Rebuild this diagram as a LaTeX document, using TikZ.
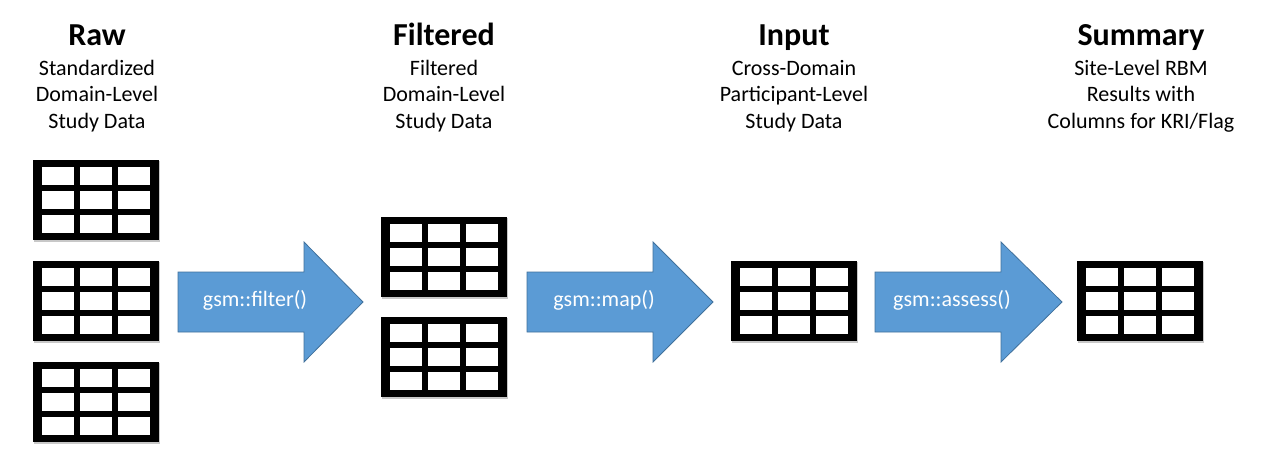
\documentclass[tikz,border=0pt]{standalone}
\usepackage{fontspec}
\setmainfont{Carlito}
\definecolor{arrowfill}{RGB}{91,155,213}
\definecolor{arrowline}{RGB}{65,113,156}
\definecolor{shadowgray}{RGB}{200,200,200}
\tikzset{
  tablebox/.style={rectangle, fill=black, minimum width=126pt, minimum height=80pt, inner sep=0pt, outer sep=0pt,
    path picture={
      \foreach \cx in {9,47,85}{
        \foreach \cy in {7,31,55}{
          \fill[white] ([shift={(\cx pt,-\cy pt)}]path picture bounding box.north west) rectangle ++(32pt,-18pt);
        }
      }
    }},
  tableshadow/.style={fill=shadowgray},
  bigarrow/.style={fill=arrowfill, draw=arrowline, line width=0.8pt, line join=miter},
  arrowlabel/.style={text=white, font=\fontsize{22}{26}\selectfont, inner sep=0pt},
  titletext/.style={anchor=base, inner sep=0pt, font=\fontsize{32}{36}\selectfont\bfseries},
  subtext/.style={anchor=base, inner sep=0pt, font=\fontsize{22}{26}\selectfont},
}
\begin{document}
\begin{tikzpicture}[x=1pt,y=-1pt]
\useasboundingbox[fill=white] (0,0) rectangle (1265,471);

% titles
\node[titletext] (rawT) at (97,45) {Raw};
\node[subtext] (rawS1) at (97,75) {Standardized};
\node[subtext] (rawS2) at (97,101.5) {Domain-Level};
\node[subtext] (rawS3) at (97,128) {Study Data};

\node[titletext] (filT) at (444,45) {Filtered};
\node[subtext] (filS1) at (444,75) {Filtered};
\node[subtext] (filS2) at (444,101.5) {Domain-Level};
\node[subtext] (filS3) at (444,128) {Study Data};

\node[titletext] (inT) at (794,45) {Input};
\node[subtext] (inS1) at (794,75) {Cross-Domain};
\node[subtext] (inS2) at (794,101.5) {Participant-Level};
\node[subtext] (inS3) at (794,128) {Study Data};

\node[titletext] (sumT) at (1141,45) {Summary};
\node[subtext] (sumS1) at (1141,75) {Site-Level RBM};
\node[subtext] (sumS2) at (1141,101.5) {Results with};
\node[subtext] (sumS3) at (1141,128) {Columns for KRI/Flag};

% table shadows
\foreach \px/\py in {96/200,96/301,96/402,444/257,444/357,794/301,1140/301}{
  \fill[tableshadow] (\px-62,\py-39) rectangle (\px+64,\py+42);
}
% tables
\node[tablebox] (raw1) at (96,200) {};
\node[tablebox] (raw2) at (96,301) {};
\node[tablebox] (raw3) at (96,402) {};
\node[tablebox] (fil1) at (444,257) {};
\node[tablebox] (fil2) at (444,357) {};
\node[tablebox] (inp) at (794,301) {};
\node[tablebox] (sum) at (1140,301) {};

% arrows
\draw[bigarrow] (178,272) -- (304,272) -- (304,242) -- (363,302) -- (304,362) -- (304,332) -- (178,332) -- cycle;
\draw[bigarrow] (527,272) -- (653,272) -- (653,242) -- (713,302) -- (653,362) -- (653,332) -- (527,332) -- cycle;
\draw[bigarrow] (875,272) -- (1001,272) -- (1001,242) -- (1062,302) -- (1001,362) -- (1001,332) -- (875,332) -- cycle;

\node[arrowlabel] (filterL) at (255,300) {gsm::filter()};
\node[arrowlabel] (mapL) at (604,300) {gsm::map()};
\node[arrowlabel] (assessL) at (952,300) {gsm::assess()};
\end{tikzpicture}
\end{document}
